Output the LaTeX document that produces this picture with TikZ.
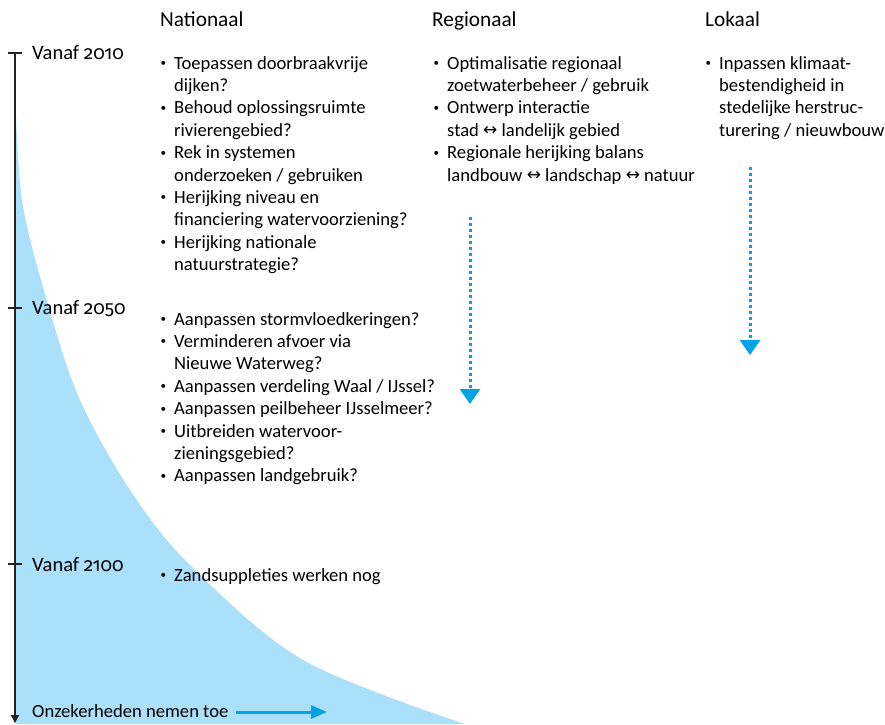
\documentclass[tikz,border=0pt]{standalone}
\usepackage{fontspec}
\setmainfont{Carlito}
\newfontfamily\symfont{DejaVu Sans}
\newfontfamily\oudfont{Fira Sans}[Numbers=OldStyle]
\usetikzlibrary{arrows.meta}
\definecolor{rijkblauw}{RGB}{0,163,230}
\definecolor{lichtblauw}{RGB}{171,224,250}
\definecolor{asgrijs}{RGB}{35,35,35}
\newcommand{\bu}{\llap{\raisebox{2.5pt}{\scalebox{0.6}{\textbullet}}\hspace{8pt}}}
\newcommand{\lr}{\raisebox{0.3pt}{\fontsize{17}{17}\symfont ↔}}
\newcommand{\jr}[1]{{\oudfont\fontsize{19}{24}\selectfont #1}}
\tikzset{
  lijst/.style={anchor=base west, inner sep=0pt, font=\fontsize{18.6}{22.4}\selectfont, text=black},
  kop/.style={anchor=base west, inner sep=0pt, font=\fontsize{21.3}{24}\selectfont, text=black},
  jaar/.style={anchor=base west, inner sep=0pt, font=\fontsize{20.5}{24}\selectfont, text=black},
  asstijl/.style={draw=asgrijs, line width=1.3pt},
  stippijl/.style={rijkblauw, line width=3pt, dash pattern=on 3pt off 3pt, -{Triangle[width=20pt,length=15pt]}},
  blauwpijl/.style={rijkblauw, line width=3pt, -{Triangle[width=13pt,length=16pt]}}
}
\begin{document}
\begin{tikzpicture}[x=1pt,y=-1pt]
\useasboundingbox (0,0) rectangle (885,724);
% uncertainty area
\fill[lichtblauw] plot[smooth, tension=0.55] coordinates {(15,85) (22,200) (49,308) (80,400) (130,490) (190,565) (303,660) (465,724)} -- (15,724) -- cycle;
% axis
\coordinate (astop) at (15,53);
\coordinate (asbodem) at (15,723);
\draw[asstijl, -{Triangle[width=8pt,length=8pt]}] (astop) -- (asbodem);
\draw[asstijl] (8,53) -- (22,53);
\draw[asstijl] (8,308) -- (22,308);
\draw[asstijl] (8,564) -- (22,564);
% headers
\node[kop] (nat) at (160,26) {Nationaal};
\node[kop] (reg) at (432,26) {Regionaal};
\node[kop] (lok) at (705,26) {Lokaal};
% years
\node[jaar] (j2010) at (32,59) {Vanaf \jr{2010}};
\node[jaar] (j2050) at (32,314) {Vanaf \jr{2050}};
\node[jaar] (j2100) at (32,571) {Vanaf \jr{2100}};
% lists
\node[lijst] (nat2010) at (174,69) {\begin{tabular}[t]{@{}l@{}}
\bu Toepassen doorbraakvrije\\
dijken?\\
\bu Behoud oplossingsruimte\\
rivierengebied?\\
\bu Rek in systemen\\
onderzoeken / gebruiken\\
\bu Herijking niveau en\\
financiering watervoorziening?\\
\bu Herijking nationale\\
natuurstrategie?\end{tabular}};
\node[lijst] (reg2010) at (447,69) {\begin{tabular}[t]{@{}l@{}}
\bu Optimalisatie regionaal\\
zoetwaterbeheer / gebruik\\
\bu Ontwerp interactie\\
stad \lr{} landelijk gebied\\
\bu Regionale herijking balans\\
landbouw \lr{} landschap \lr{} natuur\end{tabular}};
\node[lijst] (lok2010) at (719,69) {\begin{tabular}[t]{@{}l@{}}
\bu Inpassen klimaat-\\
bestendigheid in\\
stedelijke herstruc-\\
turering / nieuwbouw\end{tabular}};
\node[lijst] (nat2050) at (174,325) {\begin{tabular}[t]{@{}l@{}}
\bu Aanpassen stormvloedkeringen?\\
\bu Verminderen afvoer via\\
Nieuwe Waterweg?\\
\bu Aanpassen verdeling Waal / IJssel?\\
\bu Aanpassen peilbeheer IJsselmeer?\\
\bu Uitbreiden watervoor-\\
zieningsgebied?\\
\bu Aanpassen landgebruik?\end{tabular}};
\node[lijst] (nat2100) at (174,581) {\bu Zandsuppleties werken nog};
% dotted arrows
\coordinate (rstart) at (470,217);
\coordinate (reind) at (470,404);
\coordinate (lstart) at (750,167);
\coordinate (leind) at (750,355);
\draw[stippijl] (rstart) -- (reind);
\draw[stippijl] (lstart) -- (leind);
% bottom
\node[lijst] (onz) at (32,717) {Onzekerheden nemen toe};
\coordinate (pijleind) at (327,712);
\draw[blauwpijl] ([xshift=7pt]onz.east |- pijleind) -- (pijleind);
\end{tikzpicture}
\end{document}
